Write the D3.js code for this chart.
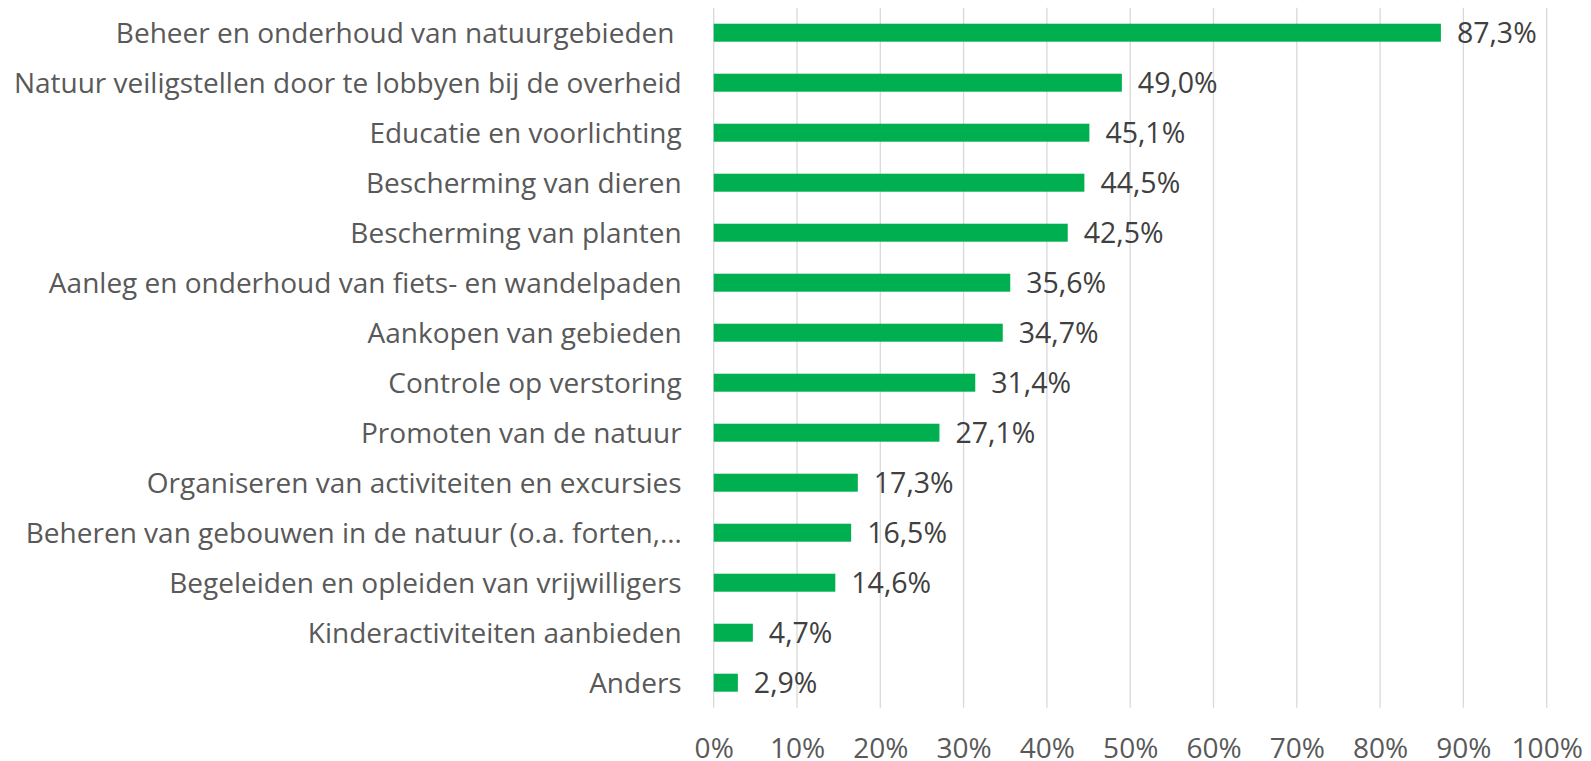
<!DOCTYPE html>
<html>
<head>
<meta charset="utf-8">
<style>
  body { margin: 0; background: #fff; }
  svg text { font-family: "Open Sans", "Noto Sans", sans-serif; }
</style>
</head>
<body>
<svg id="chart" width="1591" height="761"></svg>
<script src="https://d3js.org/d3.v7.min.js"></script>
<script>
// data
var categories = [
  "Beheer en onderhoud van natuurgebieden ",
  "Natuur veiligstellen door te lobbyen bij de overheid",
  "Educatie en voorlichting",
  "Bescherming van dieren",
  "Bescherming van planten",
  "Aanleg en onderhoud van fiets- en wandelpaden",
  "Aankopen van gebieden",
  "Controle op verstoring",
  "Promoten van de natuur",
  "Organiseren van activiteiten en excursies",
  "Beheren van gebouwen in de natuur (o.a. forten,…",
  "Begeleiden en opleiden van vrijwilligers",
  "Kinderactiviteiten aanbieden",
  "Anders"
];
var values = [87.3, 49.0, 45.1, 44.5, 42.5, 35.6, 34.7, 31.4, 27.1, 17.3, 16.5, 14.6, 4.7, 2.9];
var ticks = [0, 10, 20, 30, 40, 50, 60, 70, 80, 90, 100];

var svg = d3.select("#chart"),
    plotLeft = 713.7, plotRight = 1546.7,
    plotTop = 7.7, plotBottom = 707.7;

var x = d3.scaleLinear().domain([0, 100]).range([plotLeft, plotRight]);

var y = d3.scaleBand()
    .domain(categories)
    .range([plotTop, plotBottom])
    .paddingInner(0.64)
    .paddingOuter(0.32);

var fmt = function(v) { return v.toFixed(1).replace(".", ",") + "%"; };

// gridlines
svg.append("g")
    .selectAll("line")
    .data(ticks)
  .enter().append("line")
    .attr("x1", function(d) { return x(d); })
    .attr("x2", function(d) { return x(d); })
    .attr("y1", plotTop)
    .attr("y2", plotBottom)
    .attr("stroke", "#d9d9d9")
    .attr("stroke-width", 1.3);

// x axis labels
var xAxis = svg.append("g")
    .attr("transform", "translate(0," + (plotBottom + 30) + ")")
    .call(d3.axisBottom(x).tickValues(ticks).tickSize(0).tickPadding(0)
      .tickFormat(function(d) { return d + "%"; }));
xAxis.select(".domain").remove();
xAxis.selectAll("text")
    .attr("dy", "0.71em")
    .attr("font-size", 28)
    .attr("font-family", "Open Sans")
    .attr("fill", "#595959");

// y axis labels
var yAxis = svg.append("g")
    .attr("transform", "translate(" + (plotLeft - 32) + ",0)")
    .call(d3.axisLeft(y).tickSize(0).tickPadding(0));
yAxis.select(".domain").remove();
yAxis.selectAll("text")
    .attr("dy", "0.35em")
    .attr("font-size", 28)
    .attr("font-family", "Open Sans")
    .attr("fill", "#595959")
    .style("white-space", "pre");

// bars
svg.append("g")
    .selectAll("rect")
    .data(values)
  .enter().append("rect")
    .attr("x", x(0))
    .attr("y", function(d, i) { return y(categories[i]); })
    .attr("width", function(d) { return x(d) - x(0); })
    .attr("height", y.bandwidth())
    .attr("fill", "#00b050");

// value labels
svg.append("g")
    .selectAll("text")
    .data(values)
  .enter().append("text")
    .attr("x", function(d) { return x(d) + 16; })
    .attr("y", function(d, i) { return y(categories[i]) + y.bandwidth() / 2; })
    .attr("dy", "0.35em")
    .attr("font-size", 28.5)
    .attr("fill", "#404040")
    .text(fmt);
</script>
</body>
</html>
